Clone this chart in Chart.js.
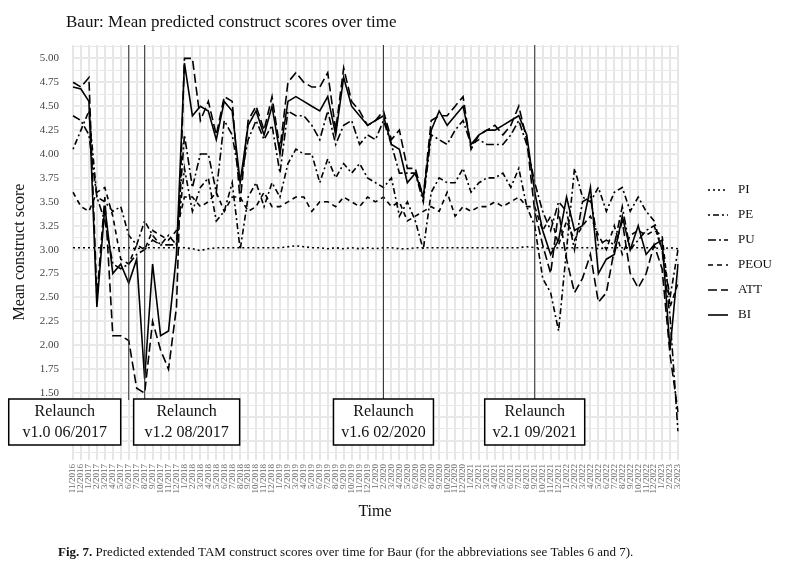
<!DOCTYPE html>
<html><head><meta charset="utf-8">
<script src="https://cdn.jsdelivr.net/npm/chart.js@4.4.1/dist/chart.umd.min.js"></script>
<style>html,body{margin:0;padding:0;background:#fff}#wrap{width:793px;height:573px;position:relative}</style>
</head><body><div id="wrap"><canvas id="c" width="793" height="573"></canvas></div>
<script>
const months = (function(){const a=[];let m=11,y=2016;for(let i=0;i<77;i++){a.push(m+'/'+y);m++;if(m>12){m=1;y++;}}return a;})();
const PI=[3.02,3.02,3.02,3.02,3.02,3.02,3.02,3.02,3.01,3.02,3.02,3.02,3.02,3.02,3.02,3.01,2.99,3.01,3.02,3.02,3.02,3.02,3.02,3.02,3.02,3.02,3.02,3.03,3.04,3.03,3.02,3.02,3.01,3.02,3.01,3.02,3.01,3.02,3.01,3.02,3.02,3.01,3.01,3.02,3.02,3.02,3.02,3.02,3.02,3.02,3.02,3.02,3.02,3.02,3.02,3.02,3.02,3.03,3.02,3.02,3.01,3.02,3.02,3.02,3.02,3.02,3.01,3.02,3.02,3.02,3.02,3.02,3.02,3.02,3.01,3.02,3.01];
const PE=[4.05,4.25,4.45,3.55,3.50,3.40,3.45,3.15,3.05,3.30,3.15,3.05,3.15,3.05,3.85,3.40,3.65,3.75,3.30,3.40,3.70,3.00,3.55,3.70,3.45,3.70,3.55,3.90,4.05,4.00,4.00,3.70,3.95,3.75,3.90,3.80,3.90,3.75,3.70,3.65,3.75,3.35,3.50,3.30,3.00,3.60,3.75,3.70,3.70,3.85,3.60,3.70,3.75,3.75,3.80,3.65,3.85,3.45,3.25,2.70,2.55,2.15,3.00,3.85,3.55,3.50,3.65,3.40,3.60,3.65,3.40,3.55,3.40,3.30,3.00,2.50,3.00];
const PU=[4.40,4.35,4.20,3.55,3.30,2.85,2.80,2.85,2.95,3.00,3.10,3.05,3.05,3.05,4.20,3.65,4.00,4.00,3.60,4.35,4.20,3.70,4.15,4.35,4.15,4.30,3.80,4.45,4.40,4.40,4.30,4.15,4.45,4.10,4.30,4.35,4.10,4.20,4.15,4.35,4.10,3.80,3.80,3.80,3.50,4.20,4.15,4.10,4.25,4.35,4.10,4.15,4.10,4.10,4.10,4.20,4.35,4.10,3.70,3.40,3.20,3.50,3.40,3.00,3.50,3.55,3.05,3.10,3.05,3.45,3.00,3.10,3.20,3.25,3.00,2.30,1.10];
const PEOU=[3.60,3.45,3.40,3.60,3.65,3.35,2.90,2.85,3.05,3.00,3.20,3.15,3.10,3.20,3.55,3.55,3.45,3.50,3.60,3.40,3.55,3.55,3.40,3.45,3.60,3.45,3.45,3.50,3.55,3.55,3.40,3.50,3.50,3.45,3.55,3.50,3.45,3.55,3.50,3.55,3.45,3.50,3.30,3.35,3.40,3.45,3.40,3.60,3.35,3.45,3.40,3.45,3.45,3.50,3.45,3.50,3.55,3.45,3.45,3.20,3.35,3.05,3.30,3.10,3.25,3.35,3.15,3.00,3.25,2.95,3.15,3.20,3.15,3.20,3.15,2.40,2.65];
const ATT=[4.75,4.70,4.80,2.50,3.55,2.10,2.10,2.05,1.55,1.50,2.25,1.95,1.75,2.40,5.00,5.00,4.35,4.55,4.20,4.60,4.55,3.50,4.35,4.50,4.25,4.60,4.05,4.75,4.85,4.75,4.70,4.70,4.85,4.25,4.90,4.55,4.45,4.30,4.35,4.45,4.15,4.25,3.85,3.85,3.55,4.35,4.40,4.40,4.50,4.60,4.05,4.20,4.25,4.30,4.20,4.30,4.50,4.15,3.40,3.05,2.75,3.40,2.90,2.55,2.70,2.95,2.45,2.55,3.00,3.30,2.75,2.60,2.75,3.05,2.80,1.90,1.30];
const BI=[4.70,4.68,4.55,2.40,3.45,2.75,2.85,2.65,2.90,1.65,2.85,2.10,2.15,2.95,4.95,4.40,4.50,4.45,4.15,4.55,4.45,3.70,4.30,4.45,4.20,4.50,4.00,4.55,4.60,4.55,4.50,4.45,4.60,4.20,4.80,4.50,4.40,4.30,4.35,4.40,4.10,4.05,3.70,3.80,3.55,4.25,4.45,4.30,4.40,4.50,4.10,4.20,4.25,4.25,4.30,4.35,4.40,4.20,3.60,3.20,2.95,3.10,3.55,3.20,3.25,3.65,2.75,2.90,2.95,3.35,3.00,3.25,2.95,3.05,3.10,1.95,2.85];
const seriesNames=['PI','PE','PU','PEOU','ATT','BI'];
const relaunchLabels=['v1.0 06/2017','v1.2 08/2017','v1.6 02/2020','v2.1 09/2021'];
const relaunchMonths=['6/2017','8/2017','2/2020','9/2021'];
const dashes=[[2,3],[2,3,6,3],[8,3,2,3],[5,4],[9,4],[]];
const serif='"Liberation Serif", "DejaVu Serif", serif';
const data=[PI,PE,PU,PEOU,ATT,BI];

const extras={id:'extras',afterDraw(ch){
  const c=ch.ctx,xs=ch.scales.x,a=ch.chartArea;
  const shiftPx=[-64,42,0,0],widths=[112,106,100,100];
  c.save();
  relaunchMonths.forEach((m,k)=>{
    const i=months.indexOf(m);const x=xs.getPixelForValue(i);
    c.strokeStyle='#333';c.lineWidth=1;c.setLineDash([]);
    c.beginPath();c.moveTo(x,a.top);c.lineTo(x,400);c.stroke();
    const cx=x+shiftPx[k];
    const w=widths[k],h=46,bx=cx-w/2,by=399;
    c.fillStyle='#fff';c.fillRect(bx,by,w,h);
    c.strokeStyle='#000';c.lineWidth=1.5;c.strokeRect(bx,by,w,h);
    c.fillStyle='#111';c.font='16px '+serif;c.textAlign='center';c.textBaseline='middle';
    c.fillText('Relaunch',cx,by+13);c.fillText(relaunchLabels[k],cx,by+34);
  });
  seriesNames.forEach((n,k)=>{
    const y=190+k*25;
    c.strokeStyle='#000';c.lineWidth=1.6;c.setLineDash(dashes[k].length?dashes[k]:[]);
    c.beginPath();c.moveTo(708,y);c.lineTo(728,y);c.stroke();
    c.setLineDash([]);c.fillStyle='#111';c.font='13px '+serif;c.textAlign='left';c.textBaseline='middle';
    c.fillText(n,738,y);
  });
  c.fillStyle='#111';c.textAlign='left';c.textBaseline='alphabetic';
  c.font='17px '+serif;c.fillText('Baur: Mean predicted construct scores over time',66,27);
  c.font='16px '+serif;c.textAlign='center';c.fillText('Time',375,516);
  c.save();c.translate(24,252);c.rotate(-Math.PI/2);c.fillText('Mean construct score',0,0);c.restore();
  c.textAlign='left';c.font='bold 13px '+serif;c.fillText('Fig. 7.',58,556);
  const fw=c.measureText('Fig. 7. ').width;c.font='13px '+serif;
  c.fillText('Predicted extended TAM construct scores over time for Baur (for the abbreviations see Tables 6 and 7).',58+fw,556);
  c.restore();
}};

new Chart(document.getElementById('c'),{
  type:'line',
  data:{labels:months,datasets:data.map((d,k)=>({label:seriesNames[k],data:d,borderColor:'#000',borderWidth:1.6,borderDash:dashes[k],pointRadius:0,tension:0,fill:false}))},
  options:{responsive:false,animation:false,
    layout:{padding:{left:38,right:115,top:45,bottom:33}},
    plugins:{legend:{display:false},tooltip:{enabled:false}},
    scales:{
      x:{offset:false,grid:{color:'#e6e6e6',lineWidth:2,drawTicks:false},border:{display:false},
        ticks:{autoSkip:false,maxRotation:90,minRotation:90,color:'#666',font:{family:serif,size:9},padding:4},
        afterFit(s){s.height=80;}},
      y:{min:0.8,max:5.14,grid:{color:'#e9e9e9',lineWidth:(ctx)=>{const v=ctx.tick&&ctx.tick.value;return Math.abs(v*4-Math.round(v*4))<1e-6?2:1;},drawTicks:false},border:{display:false},
        afterBuildTicks(s){const t=[];for(let v=0.875;v<=5.13;v+=0.125)t.push({value:+v.toFixed(3)});s.ticks=t;},
        ticks:{autoSkip:false,color:'#444',font:{family:serif,size:11},padding:14,
          callback(v){const val=+v;if(val>=1.5&&Math.abs(val*4-Math.round(val*4))<1e-6)return val.toFixed(2);return '';}},
        afterFit(s){s.width=35;}}
    }},
  plugins:[extras]
});
</script></body></html>
